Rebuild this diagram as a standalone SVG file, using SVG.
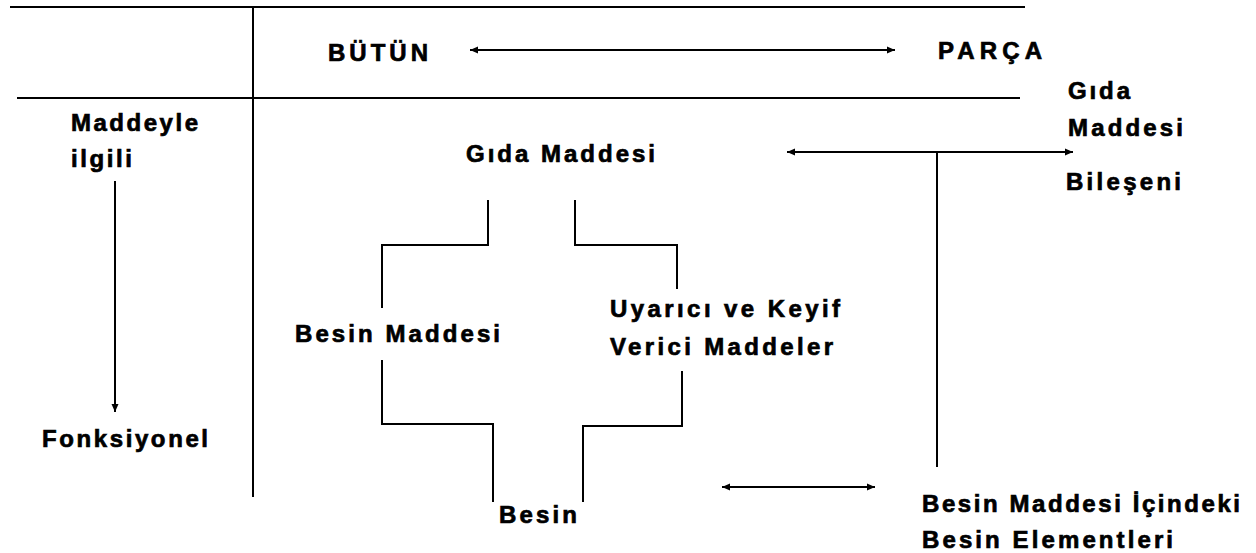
<svg xmlns="http://www.w3.org/2000/svg" width="1256" height="553" viewBox="0 0 1256 553">
  <style>
    .lbl { font-family: "Liberation Sans", Arial, sans-serif; font-weight: bold; font-size: 24px; fill: #000; stroke: #000; stroke-width: 0.7; }
    .ln { fill: none; stroke: #000; stroke-width: 2; }
  </style>
  <defs>
    <marker id="head" viewBox="0 0 9 9" refX="8" refY="4.5" markerWidth="9" markerHeight="9" markerUnits="userSpaceOnUse" orient="auto-start-reverse">
      <path d="M0,1 L8,4.5 L0,8 Z" fill="#000"/>
    </marker>
  </defs>
  <rect width="1256" height="553" fill="#fff"/>

  <!-- table frame -->
  <g id="frame">
    <line class="ln" x1="10" y1="7" x2="1025" y2="7"/>
    <line class="ln" x1="17" y1="98" x2="1020" y2="98"/>
    <line class="ln" x1="253" y1="7" x2="253" y2="497"/>
  </g>

  <!-- connectors -->
  <g id="connectors">
    <line class="ln" x1="470" y1="50" x2="895" y2="50" marker-start="url(#head)" marker-end="url(#head)"/>
    <line class="ln" x1="787" y1="152" x2="1073" y2="152" marker-start="url(#head)" marker-end="url(#head)"/>
    <line class="ln" x1="937" y1="152" x2="937" y2="467"/>
    <line class="ln" x1="722" y1="487" x2="875" y2="487" marker-start="url(#head)" marker-end="url(#head)"/>
    <line class="ln" x1="115" y1="181" x2="115" y2="412" marker-end="url(#head)"/>
    <polyline class="ln" points="488,200 488,245 382,245 382,308"/>
    <polyline class="ln" points="575,200 575,245 677,245 677,289"/>
    <polyline class="ln" points="382,360 382,424 493,424 493,502"/>
    <polyline class="ln" points="682,371 682,426 583,426 583,502"/>
  </g>

  <g id="butun"><text class="lbl" x="328" y="61" textLength="100" lengthAdjust="spacing">BÜTÜN</text></g>
  <g id="parca"><text class="lbl" x="938" y="59" textLength="104" lengthAdjust="spacing">PARÇA</text></g>
  <g id="maddeyle-ilgili">
    <text class="lbl" x="71" y="131" textLength="127" lengthAdjust="spacing">Maddeyle</text>
    <text class="lbl" x="71" y="167" textLength="61" lengthAdjust="spacing">ilgili</text>
  </g>
  <g id="fonksiyonel"><text class="lbl" x="42" y="447" textLength="166" lengthAdjust="spacing">Fonksiyonel</text></g>
  <g id="gida-maddesi"><text class="lbl" x="466" y="162" textLength="189" lengthAdjust="spacing">Gıda Maddesi</text></g>
  <g id="gida-maddesi-bileseni">
    <text class="lbl" x="1068" y="99" textLength="62" lengthAdjust="spacing">Gıda</text>
    <text class="lbl" x="1068" y="136" textLength="115" lengthAdjust="spacing">Maddesi</text>
    <text class="lbl" x="1066" y="190" textLength="115" lengthAdjust="spacing">Bileşeni</text>
  </g>
  <g id="besin-maddesi"><text class="lbl" x="295" y="342" textLength="205" lengthAdjust="spacing">Besin Maddesi</text></g>
  <g id="uyarici">
    <text class="lbl" x="610" y="317" textLength="230" lengthAdjust="spacing">Uyarıcı ve Keyif</text>
    <text class="lbl" x="610" y="355" textLength="223" lengthAdjust="spacing">Verici Maddeler</text>
  </g>
  <g id="besin"><text class="lbl" x="499" y="523" textLength="78" lengthAdjust="spacing">Besin</text></g>
  <g id="besin-elementleri">
    <text class="lbl" x="922" y="512" textLength="318" lengthAdjust="spacing">Besin Maddesi İçindeki</text>
    <text class="lbl" x="922" y="548" textLength="251" lengthAdjust="spacing">Besin Elementleri</text>
  </g>
</svg>
